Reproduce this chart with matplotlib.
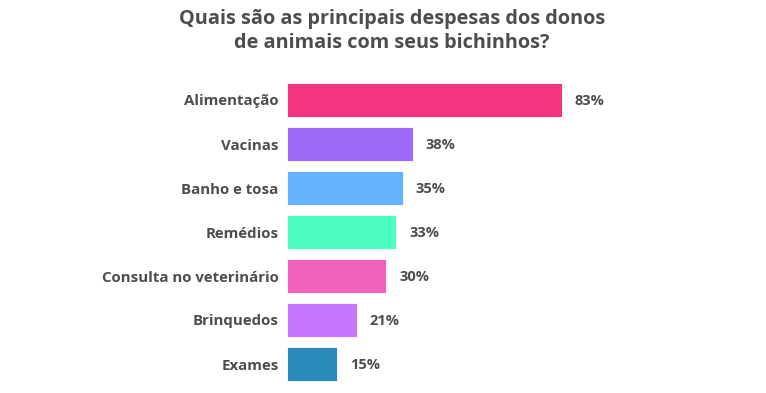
import matplotlib
matplotlib.use('Agg')
import matplotlib.pyplot as plt

categories = ['Alimentação', 'Vacinas', 'Banho e tosa', 'Remédios',
              'Consulta no veterinário', 'Brinquedos', 'Exames']
values = [83, 38, 35, 33, 30, 21, 15]
colors = ['#F5347F', '#9D69F5', '#64B1FF', '#4DFEC4', '#EF61BA', '#C777FF', '#2A8ABB']
title = 'Quais são as principais despesas dos donos\nde animais com seus bichinhos?'

plt.rcParams['font.family'] = ['Open Sans', 'DejaVu Sans']
txt_color = '#4D4D4D'

W, H = 766, 393
fig = plt.figure(figsize=(W / 100, H / 100), dpi=100)
# axes placed in pixel coords: left 287, 331 px for 0..100 %, rows from y=78 to y=386
ax = fig.add_axes([287 / W, (H - 386) / H, 331.3 / W, 308 / H])

ypos = list(range(len(categories)))
ax.barh(ypos, values, height=0.77, color=colors, edgecolor='white', linewidth=0.6)
ax.set_xlim(0, 100)
ax.set_ylim(len(categories) - 0.5, -0.5)

for y, v in zip(ypos, values):
    ax.annotate('{0:d}%'.format(v), (v, y), xytext=(13, -1), textcoords='offset pixels',
                va='center', ha='left', fontsize=10.5, fontweight='bold', color=txt_color)

ax.set_yticks(ypos)
ax.set_yticklabels(categories, fontsize=10.8, fontweight='bold', color=txt_color)
ax.tick_params(axis='y', length=0, pad=6)
ax.set_xticks([])
for s in ax.spines.values():
    s.set_visible(False)

fig.text(392 / W, 1 - 9 / H, title, ha='center', va='top', fontsize=14.3,
         fontweight='bold', color=txt_color, linespacing=1.3)

fig.savefig('out.png', dpi=100)
